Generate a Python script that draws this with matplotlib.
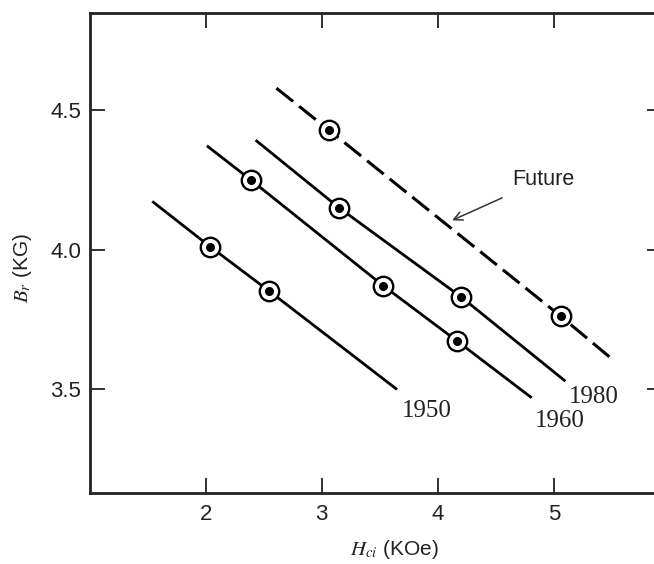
import matplotlib
matplotlib.use("Agg")
import matplotlib.pyplot as plt

plt.rcParams['font.family'] = ['Liberation Sans', 'DejaVu Sans']
plt.rcParams['mathtext.fontset'] = 'stix'

# curves: Hci (KOe) vs Br (KG)
x_1950 = [1.55, 2.04, 2.55, 3.64]
y_1950 = [4.17, 4.01, 3.85, 3.50]
x_1960 = [2.02, 2.39, 3.53, 4.17, 4.80]
y_1960 = [4.37, 4.25, 3.87, 3.67, 3.47]
x_1980 = [2.44, 3.15, 4.20, 5.09]
y_1980 = [4.39, 4.15, 3.83, 3.53]
x_future = [2.61, 3.06, 5.06, 5.52]
y_future = [4.58, 4.43, 3.76, 3.60]

# measured points (circles)
pts_x = [2.04, 2.55, 2.39, 3.53, 4.17, 3.15, 4.20, 3.06, 5.06]
pts_y = [4.01, 3.85, 4.25, 3.87, 3.67, 4.15, 3.83, 4.43, 3.76]

year_labels = ['1950', '1960', '1980']
year_x = [3.69, 4.835, 5.13]
year_y = [3.42, 3.385, 3.47]

x_ticks = [2, 3, 4, 5]
y_ticks = [3.5, 4.0, 4.5]

fig = plt.figure(figsize=(6.54, 5.64), dpi=100)
ax = fig.add_axes([0.1369, 0.1259, 0.875, 0.851])

ax.plot(x_1950, y_1950, color='black', lw=2.0, zorder=2)
ax.plot(x_1960, y_1960, color='black', lw=2.0, zorder=2)
ax.plot(x_1980, y_1980, color='black', lw=2.0, zorder=2)
ax.plot(x_future, y_future, color='black', lw=2.2, dashes=(7, 2.5), zorder=2)

# circle with a dot in the middle
ax.plot(pts_x, pts_y, ls='none', marker='o', ms=14, mfc='white',
        mec='black', mew=1.7, zorder=3)
ax.plot(pts_x, pts_y, ls='none', marker='o', ms=5.5, mfc='black',
        mec='black', zorder=4)

for lab, lx, ly in zip(year_labels, year_x, year_y):
    ax.text(lx, ly, lab, fontsize=18, family=['Liberation Serif', 'DejaVu Serif'],
            ha='left', va='center', color='#222222')

ax.annotate('Future', xy=(4.124, 4.105), xytext=(4.64, 4.252),
            fontsize=15.5, ha='left', va='center', color='#222222',
            arrowprops=dict(arrowstyle='->', color='#333333', lw=1.1,
                            shrinkA=9, shrinkB=0))

ax.set_xlim(1.0, 5.93)
ax.set_ylim(3.125, 4.85)
ax.set_xticks(x_ticks)
ax.set_xticklabels([str(t) for t in x_ticks])
ax.set_yticks(y_ticks)
ax.set_yticklabels(['%.1f' % t for t in y_ticks])

ax.tick_params(direction='in', length=11, width=1.3, top=True, right=True,
               labelsize=16, colors='#222222')
ax.tick_params(axis='x', pad=8)
ax.tick_params(axis='y', pad=6)
for sp in ax.spines.values():
    sp.set_linewidth(2.0)
    sp.set_color('#222222')

ax.set_xlabel(r'$H_{ci}$ (KOe)', fontsize=15, color='#222222')
ax.set_ylabel(r'$B_r$ (KG)', fontsize=15, color='#222222')
ax.xaxis.set_label_coords(0.532, -0.094)
ax.yaxis.set_label_coords(-0.097, 0.469)

fig.savefig('out.png', dpi=100)
